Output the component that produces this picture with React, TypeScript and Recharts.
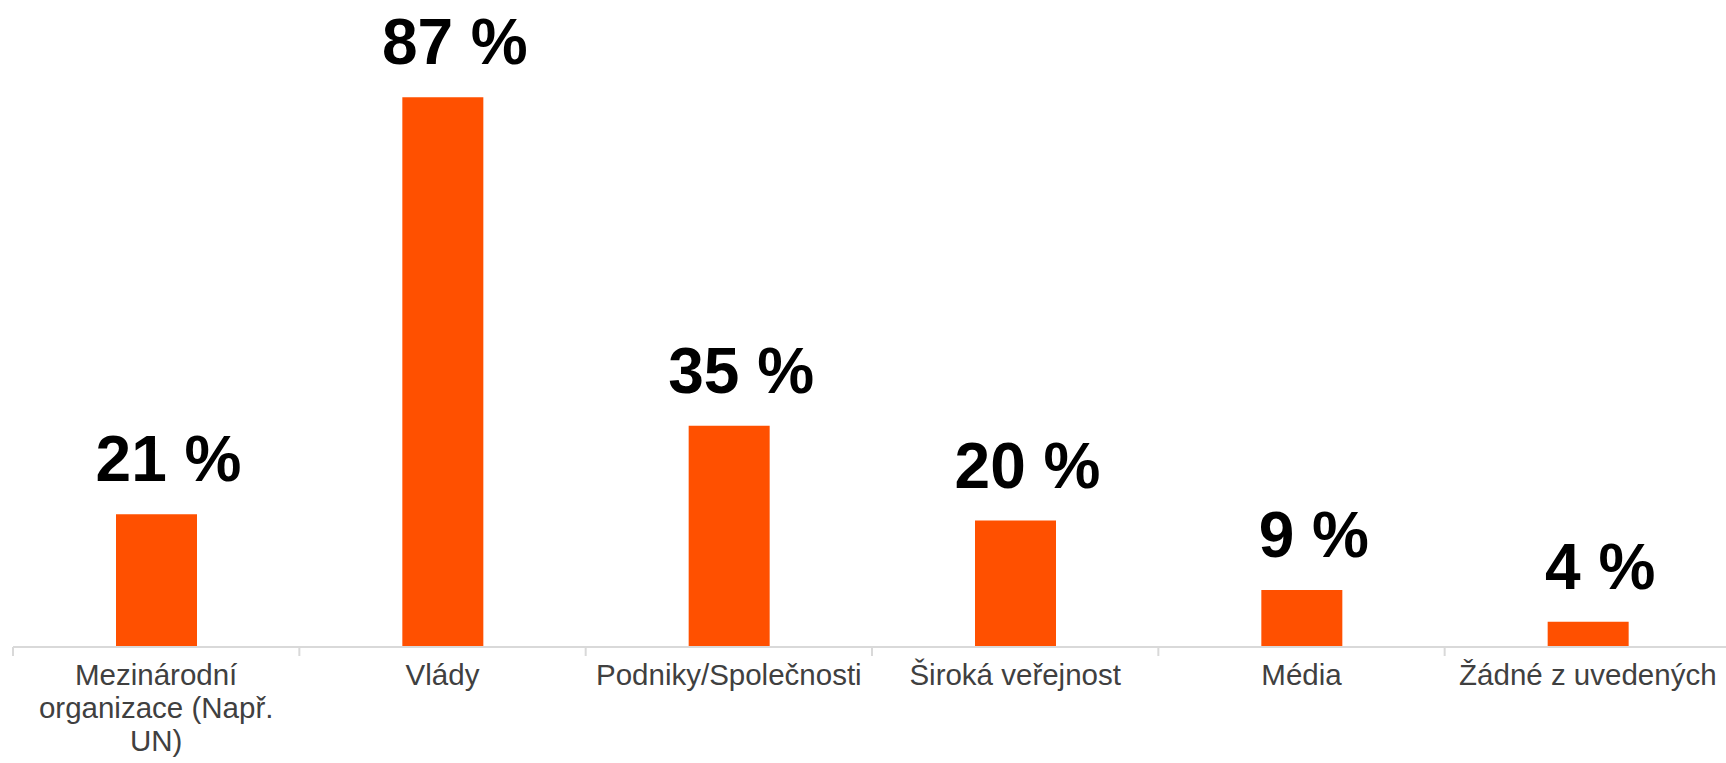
import { BarChart, Bar, XAxis, YAxis, LabelList } from "recharts"

const categories = [
  "Mezinárodní\norganizace (Např.\nUN)",
  "Vlády",
  "Podniky/Společnosti",
  "Široká veřejnost",
  "Média",
  "Žádné z uvedených",
]
const shares = [21, 87, 35, 20, 9, 4]

const data = categories.map((name, i) => ({ name, value: shares[i] }))

const W = 1735
const H = 763
const M_LEFT = 13
const M_RIGHT = 4
const BAND = (W - M_LEFT - M_RIGHT) / categories.length
const FONT = "'Liberation Sans', Arial, sans-serif"

function CategoryTick(props: any) {
  const { x, y, payload } = props
  const lines = String(payload.value).split("\n")
  const left = x - BAND / 2
  return (
    <g>
      <line x1={left} x2={left} y1={y} y2={y + 9} stroke="#d9d9d9" strokeWidth={2} />
      <text x={x} y={y + 38} textAnchor="middle" fill="#404040" fontSize={29.5} fontFamily={FONT}>
        {lines.map((l, i) => (
          <tspan key={i} x={x} dy={i === 0 ? 0 : 33}>
            {l}
          </tspan>
        ))}
      </text>
    </g>
  )
}

export default function App() {
  return (
    <div style={{ position: "absolute", left: 0, top: 0, width: 1726, height: H, overflow: "hidden", background: "#fff" }}>
      <BarChart width={W} height={H} data={data} margin={{ top: 15, right: M_RIGHT, bottom: 0, left: M_LEFT }}>
        <XAxis
          dataKey="name"
          height={116}
          interval={0}
          tickSize={0}
          tickMargin={0}
          tickLine={false}
          axisLine={{ stroke: "#d9d9d9", strokeWidth: 2 }}
          tick={<CategoryTick />}
        />
        <YAxis hide domain={[0, 100]} />
        <Bar dataKey="value" fill="#FF5000" barSize={81} isAnimationActive={false}>
          <LabelList
            dataKey="value"
            position="top"
            offset={33}
            dx={12}
            formatter={(v: any) => `${v} %`}
            style={{ fontSize: 64, fontWeight: 700, fill: "#000", fontFamily: FONT }}
          />
        </Bar>
      </BarChart>
    </div>
  )
}
